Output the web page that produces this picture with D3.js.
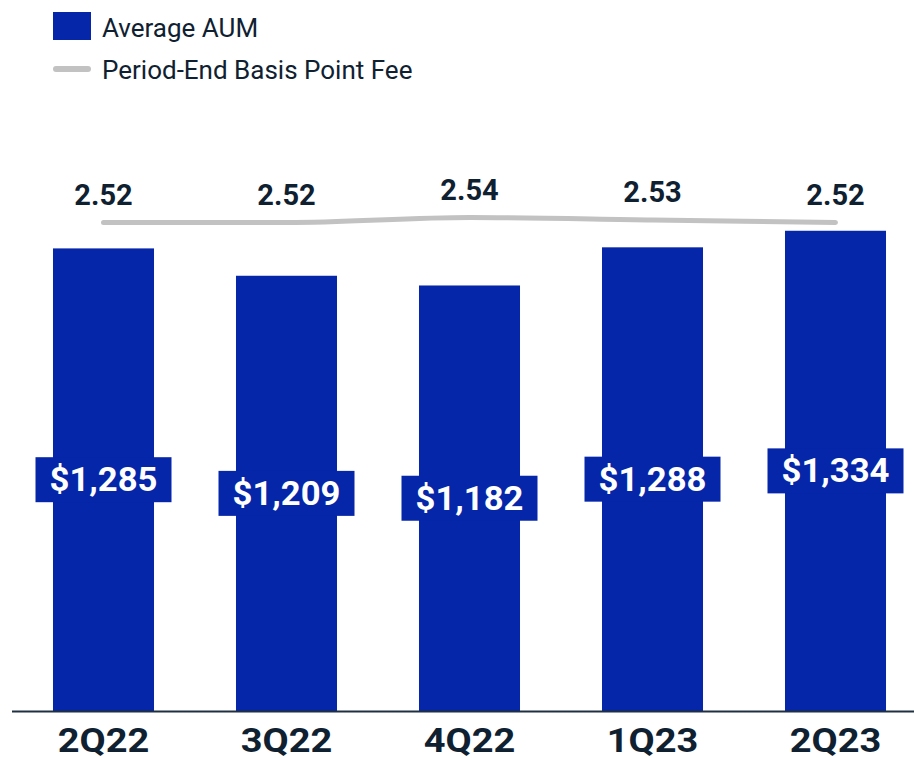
<!DOCTYPE html>
<html><head><meta charset="utf-8">
<script src="https://cdn.jsdelivr.net/npm/d3@7/dist/d3.min.js"></script>
<style>
html,body{margin:0;padding:0;background:#fff;}
svg{display:block;font-family:Roboto,"Noto Sans",sans-serif;}
</style></head>
<body><svg id="chart" width="914" height="758"></svg>
<script>
const categories = ["2Q22","3Q22","4Q22","1Q23","2Q23"];
const aumValues = [1285,1209,1182,1288,1334];
const aumLabels = ["$1,285","$1,209","$1,182","$1,288","$1,334"];
const feeValues = [2.52,2.52,2.54,2.53,2.52];
const feeLabels = ["2.52","2.52","2.54","2.53","2.52"];
const legendLabels = ["Average AUM","Period-End Basis Point Fee"];

const barColor = "#0626a9", lineColor = "#c2c2c2", textColor = "#0f2131";
const svg = d3.select("#chart");

const x = d3.scaleBand().domain(categories).range([12, 927]).paddingInner(0.448).paddingOuter(0.224);
const y = d3.scaleLinear().domain([0, 1400]).range([711, 207]);
const yFee = d3.scaleLinear().domain([2.40, 2.60]).range([252.5, 202.5]);

// bars
svg.append("g").selectAll("rect").data(categories).join("rect")
  .attr("x", d => x(d)).attr("width", x.bandwidth())
  .attr("y", (d,i) => y(aumValues[i])).attr("height", (d,i) => y(0) - y(aumValues[i]))
  .attr("fill", barColor);

// value labels
const vl = svg.append("g").selectAll("g").data(categories).join("g")
  .attr("transform", (d,i) => `translate(${x(d)+x.bandwidth()/2},${(y(aumValues[i])+y(0))/2})`);
vl.append("rect").attr("x", -68).attr("y", -22.5).attr("width", 136).attr("height", 45).attr("fill", barColor);
vl.append("text").attr("text-anchor","middle").attr("y", 11.5)
  .attr("transform","scale(1.05,1)")
  .attr("fill","#fff").attr("font-weight","bold").attr("font-size","33px")
  .text((d,i) => aumLabels[i]);

// axis
svg.append("line").attr("x1", 12).attr("x2", 914).attr("y1", 711.5).attr("y2", 711.5)
  .attr("stroke", "#1f3040").attr("stroke-width", 2);
svg.append("g").selectAll("text").data(categories).join("text")
  .attr("transform", d => `translate(${x(d)+x.bandwidth()/2},752) scale(1.15,1)`)
  .attr("text-anchor","middle").attr("fill",textColor).attr("font-weight","bold").attr("font-size","33px")
  .text(d => d);

// fee line
const line = d3.line().x(d => x(d.c)+x.bandwidth()/2).y(d => yFee(d.v)).curve(d3.curveMonotoneX);
const feeData = categories.map((c,i) => ({c, v: feeValues[i]}));
svg.append("path").datum(feeData).attr("d", line).attr("fill","none")
  .attr("stroke", lineColor).attr("stroke-width", 5).attr("stroke-linecap","round");
svg.append("g").selectAll("text").data(feeData).join("text")
  .attr("x", d => x(d.c)+x.bandwidth()/2).attr("y", d => yFee(d.v) - 18)
  .attr("text-anchor","middle").attr("fill",textColor).attr("font-weight","bold").attr("font-size","29px")
  .text((d,i) => feeLabels[i]);

// legend
svg.append("rect").attr("x",53).attr("y",12).attr("width",38).attr("height",28).attr("fill",barColor);
svg.append("line").attr("x1",56).attr("x2",88).attr("y1",69).attr("y2",69)
  .attr("stroke",lineColor).attr("stroke-width",6).attr("stroke-linecap","round");
svg.append("g").selectAll("text").data(legendLabels).join("text")
  .attr("x",102).attr("y",(d,i) => 37 + i*42)
  .attr("fill",textColor).attr("font-size","26px").text(d => d);
</script></body></html>
